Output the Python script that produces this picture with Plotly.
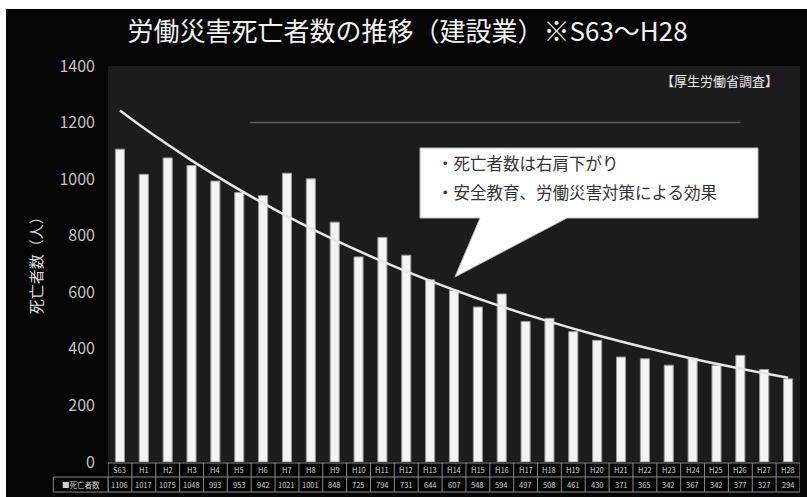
import numpy as np
import plotly.graph_objects as go

categories = ["S63", "H1", "H2", "H3", "H4", "H5", "H6", "H7", "H8", "H9", "H10",
              "H11", "H12", "H13", "H14", "H15", "H16", "H17", "H18", "H19", "H20",
              "H21", "H22", "H23", "H24", "H25", "H26", "H27", "H28"]
deaths = [1106, 1017, 1075, 1048, 993, 953, 942, 1021, 1001, 848, 725,
          794, 731, 644, 607, 548, 594, 497, 508, 461, 430,
          371, 365, 342, 367, 342, 377, 327, 294]
y_ticks = [0, 200, 400, 600, 800, 1000, 1200, 1400]
title_text = "労働災害死亡者数の推移（建設業）※S63～H28"
y_title = "死亡者数（人）"
series_name = "死亡者数"
callout_lines = ["・死亡者数は右肩下がり", "・安全教育、労働災害対策による効果"]
source_text = "【厚生労働省調査】"

FONT = "Noto Sans CJK JP"
n = len(categories)
idx = np.arange(n)
coef = np.polyfit(idx, np.log(deaths), 1)
trend = np.exp(np.polyval(coef, idx))

fig = go.Figure()
fig.add_trace(go.Bar(
    x=categories, y=deaths, name=series_name,
    marker=dict(color="#f4f4f4", line=dict(color="#9a9a9a", width=1)),
    showlegend=False,
))
fig.add_trace(go.Scatter(
    x=categories, y=trend, mode="lines", line=dict(color="#e6e6e6", width=2.5, shape="spline"),
    showlegend=False, hoverinfo="skip",
))

shapes = []
# white border strips of the photographed slide
shapes.append(dict(type="rect", xref="paper", yref="paper", x0=-0.3, x1=1.1, y0=1.1439, y1=1.3,
                   fillcolor="white", line=dict(width=0), layer="above"))
shapes.append(dict(type="rect", xref="paper", yref="paper", x0=-0.3, x1=-0.1474, y0=-0.2, y1=1.3,
                   fillcolor="white", line=dict(width=0), layer="above"))
# faint horizontal line
shapes.append(dict(type="line", xref="x", yref="y", x0=5.45, x1=26, y0=1200, y1=1200,
                   line=dict(color="#5a5a5a", width=1.5), layer="below"))
# callout balloon
shapes.append(dict(type="path", xref="paper", yref="paper",
                   path="M 0.4509,0.7929 L 0.9393,0.7929 L 0.9393,0.6162 L 0.6633,0.6162 "
                        "L 0.5014,0.4672 L 0.5376,0.6162 L 0.4509,0.6162 Z",
                   fillcolor="white", line=dict(color="#bbbbbb", width=1)))
# data table grid
r_top, r_mid, r_bot = -0.0025, -0.0379, -0.0758
tbl = dict(color="#8a8a8a", width=1)
for k in range(n + 1):
    shapes.append(dict(type="line", xref="x", yref="paper", x0=k - 0.5, x1=k - 0.5,
                       y0=r_bot, y1=r_top, line=tbl))
for yy in (r_top, r_mid, r_bot):
    shapes.append(dict(type="line", xref="x", yref="paper", x0=-0.5, x1=n - 0.5,
                       y0=yy, y1=yy, line=tbl))
shapes.append(dict(type="rect", xref="paper", yref="paper", x0=-0.079, x1=0, y0=r_bot, y1=r_mid,
                   line=tbl))

annotations = []
annotations.append(dict(text=y_title, xref="paper", yref="paper", x=-0.105, y=0.505,
                        xanchor="center", yanchor="middle",
                        textangle=-90, showarrow=False,
                        font=dict(family=FONT, size=15, color="#dcdcdc")))
annotations.append(dict(text=source_text, xref="paper", yref="paper", x=0.884, y=0.9646,
                        xanchor="center", yanchor="middle",
                        showarrow=False, font=dict(family=FONT, size=13, color="#e8e8e8")))
for line_text, yy in zip(callout_lines, (0.755, 0.682)):
    annotations.append(dict(text=line_text, xref="paper", yref="paper", x=0.4725, y=yy,
                            xanchor="left", yanchor="middle", showarrow=False,
                            font=dict(family=FONT, size=16.5, color="#333333")))
tfont = dict(family=FONT, size=7.5, color="#d0d0d0")
for c, v in zip(categories, deaths):
    annotations.append(dict(text=c, xref="x", yref="paper", x=c, y=(r_top + r_mid) / 2,
                            xanchor="center", yanchor="middle", showarrow=False, font=tfont))
    annotations.append(dict(text=str(v), xref="x", yref="paper", x=c, y=(r_mid + r_bot) / 2,
                            xanchor="center", yanchor="middle", showarrow=False, font=tfont))
annotations.append(dict(text="■" + series_name, xref="paper", yref="paper", x=-0.0395,
                        y=(r_mid + r_bot) / 2, xanchor="center", yanchor="middle",
                        showarrow=False, font=tfont))

fig.update_layout(
    width=807, height=497,
    margin=dict(l=108, r=7, t=66, b=35),
    paper_bgcolor="#050505",
    plot_bgcolor="#1c1c1c",
    bargap=0.62,
    title=dict(text=title_text, x=0.505, xanchor="center", y=0.936, yanchor="middle",
               font=dict(family=FONT, size=26, color="#f2f2f2")),
    xaxis=dict(type="category", range=[-0.5, n - 0.5], showticklabels=False,
               showgrid=False, zeroline=False, showline=False, ticks=""),
    yaxis=dict(range=[0, 1400], tickvals=y_ticks, showgrid=False, zeroline=False,
               showline=False, ticks="", ticklabelstandoff=12,
               tickfont=dict(family=FONT, size=16, color="#c4c4c4")),
    shapes=shapes,
    annotations=annotations,
    font=dict(family=FONT),
)

fig.write_html("out.html")
